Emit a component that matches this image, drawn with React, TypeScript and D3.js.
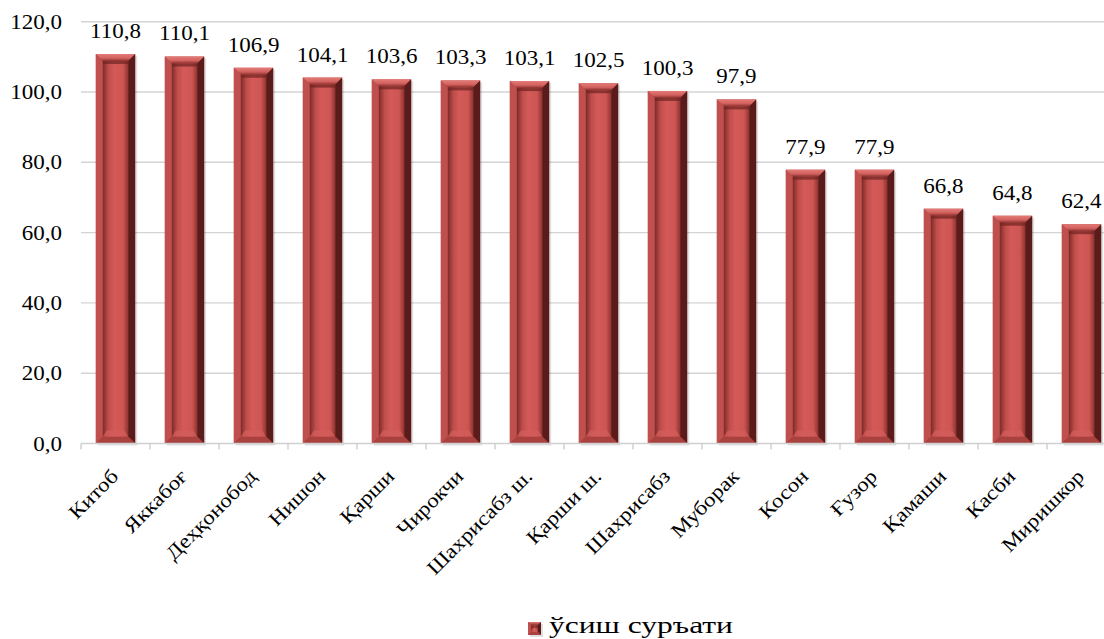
import React from "react";
import * as d3 from "d3";

const categories = [
  "Китоб", "Яккабоғ", "Деҳқонобод", "Нишон", "Қарши", "Чирокчи", "Шахрисабз ш.",
  "Қарши ш.", "Шахрисабз", "Муборак", "Косон", "Ғузор", "Қамаши", "Касби", "Миришкор",
];
const values = [110.8, 110.1, 106.9, 104.1, 103.6, 103.3, 103.1, 102.5, 100.3, 97.9, 77.9, 77.9, 66.8, 64.8, 62.4];
const yTicks = [0, 20, 40, 60, 80, 100, 120];
const seriesName = "ўсиш суръати";

const W = 1104;
const H = 639;
const FONT = "Liberation Serif";
const SX = 1.15;

const fmt = (v: number) => d3.format(".1f")(v).replace(".", ",");

function BevelBar({ x, y, w, h, id }: { x: number; y: number; w: number; h: number; id: string }) {
  const b = Math.min(7, w / 4, h / 3);
  const x1 = x + w;
  const y1 = y + h;
  return (
    <g>
      <rect x={x + 2} y={y + 2} width={w} height={h} fill="#000" opacity={0.12} />
      <rect x={x} y={y} width={w} height={h} fill="#b24744" />
      <polygon points={`${x},${y} ${x1},${y} ${x1 - b},${y + b} ${x + b},${y + b}`} fill={`url(#top-${id})`} />
      <polygon points={`${x},${y} ${x + b},${y + b} ${x + b},${y1 - b} ${x},${y1}`} fill="#c0504d" />
      <polygon points={`${x1},${y} ${x1},${y1} ${x1 - b},${y1 - b} ${x1 - b},${y + b}`} fill="#5a1c1a" />
      <polygon points={`${x},${y1} ${x + b},${y1 - b} ${x1 - b},${y1 - b} ${x1},${y1}`} fill="#a9423f" />
      <rect x={x + b} y={y + b} width={w - 2 * b} height={h - 2 * b} fill="url(#inner)" />
      <rect x={x + b} y={y + b} width={w - 2 * b} height={Math.min(3, h - 2 * b)} fill="#6e2321" opacity={0.7} />
      <polygon
        points={`${x + b},${y1 - b} ${x + b + 4},${y1 - b - 6} ${x1 - b - 4},${y1 - b - 6} ${x1 - b},${y1 - b}`}
        fill="#d25d5a"
        opacity={0.8}
      />
    </g>
  );
}

export default function App() {
  const x = d3
    .scaleBand<string>()
    .domain(categories)
    .range([81, 1116])
    .paddingInner(0.43)
    .paddingOuter(0.215);
  const y = d3.scaleLinear().domain([0, 120]).range([443.5, 21.7]);
  const step = x.step();
  const x0 = 81;
  const x1 = 1116;
  const textStyle = { fontFamily: FONT };

  return (
    <svg
      width={W}
      height={H}
      style={{ position: "absolute", left: 0, top: 0, background: "#fff", fontFamily: FONT }}
    >
      <defs>
        <linearGradient id="inner" x1="0" x2="1" y1="0" y2="0">
          <stop offset="0%" stopColor="#7c2b29" />
          <stop offset="22%" stopColor="#bf4d4a" />
          <stop offset="45%" stopColor="#d35a58" />
          <stop offset="80%" stopColor="#cd5552" />
          <stop offset="100%" stopColor="#8f3431" />
        </linearGradient>
        {categories.map((c, i) => (
          <linearGradient key={i} id={`top-${i}`} x1="0" x2="0" y1="0" y2="1">
            <stop offset="0%" stopColor="#e57b78" />
            <stop offset="60%" stopColor="#d0605d" />
            <stop offset="100%" stopColor="#8a2f2d" />
          </linearGradient>
        ))}
        <linearGradient id="top-leg" x1="0" x2="0" y1="0" y2="1">
          <stop offset="0%" stopColor="#e57b78" />
          <stop offset="100%" stopColor="#8a2f2d" />
        </linearGradient>
      </defs>

      {yTicks
        .filter((t) => t !== 0)
        .map((t) => (
          <line key={t} x1={x0} x2={x1} y1={y(t)} y2={y(t)} stroke="#d4d4d4" strokeWidth={1.4} />
        ))}

      {yTicks.map((t) => (
        <text
          key={t}
          style={textStyle}
          transform={`translate(62,${y(t) + 7}) scale(${SX},1)`}
          textAnchor="end"
          fontSize={20}
          fill="#000"
        >
          {fmt(t)}
        </text>
      ))}

      {categories.map((c, i) => {
        const bx = x(c)!;
        const by = y(values[i]);
        return <BevelBar key={c} id={String(i)} x={bx} y={by} w={x.bandwidth()} h={y(0) - by} />;
      })}

      <line x1={x0} x2={x1} y1={y(0)} y2={y(0)} stroke="#d0d0d0" strokeWidth={1.5} />
      {d3.range(categories.length + 1).map((i) => (
        <line
          key={i}
          x1={x0 + i * step}
          x2={x0 + i * step}
          y1={y(0)}
          y2={y(0) + 6}
          stroke="#d0d0d0"
          strokeWidth={1.5}
        />
      ))}

      {categories.map((c, i) => (
        <text
          key={c}
          style={textStyle}
          transform={`translate(${x(c)! + x.bandwidth() / 2},${y(values[i]) - 16}) scale(${SX},1)`}
          textAnchor="middle"
          fontSize={20}
          fill="#000"
        >
          {fmt(values[i])}
        </text>
      ))}

      {categories.map((c) => (
        <text
          key={c}
          style={textStyle}
          transform={`translate(${x(c)! + x.bandwidth() / 2 + 4},${y(0) + 34}) rotate(-45) scale(${SX},1)`}
          textAnchor="end"
          fontSize={20}
          fill="#000"
        >
          {c}
        </text>
      ))}

      <BevelBar x={528} y={622} w={13} h={13} id="leg" />
      <text style={textStyle} x={549} y={633} fontSize={24} fill="#000" textLength={184} lengthAdjust="spacingAndGlyphs">
        {seriesName}
      </text>
    </svg>
  );
}
